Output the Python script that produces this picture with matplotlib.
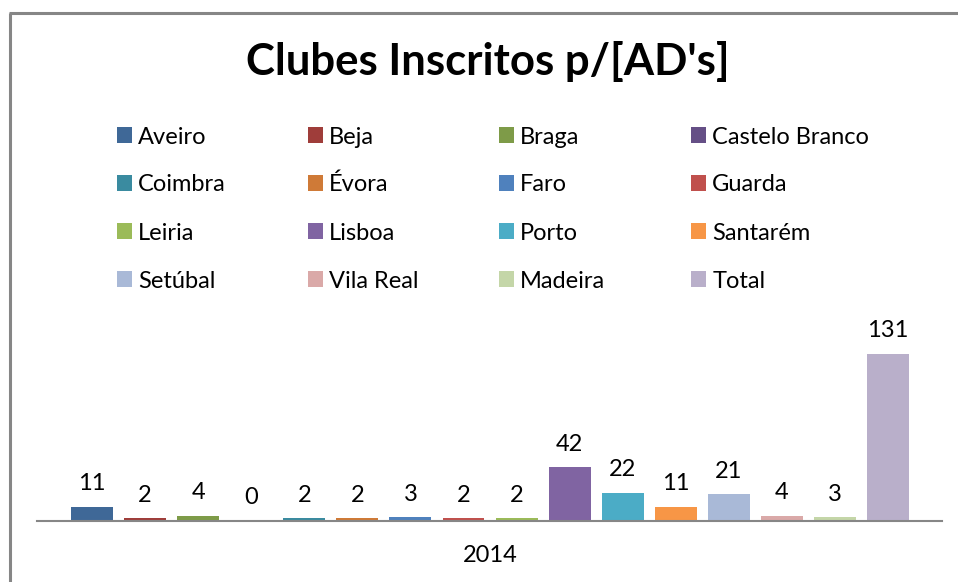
import matplotlib
matplotlib.use("Agg")
import matplotlib.pyplot as plt
from matplotlib.lines import Line2D

categories = ["Aveiro", "Beja", "Braga", "Castelo Branco", "Coimbra", "Évora",
              "Faro", "Guarda", "Leiria", "Lisboa", "Porto", "Santarém",
              "Setúbal", "Vila Real", "Madeira", "Total"]
values = [11, 2, 4, 0, 2, 2, 3, 2, 2, 42, 22, 11, 21, 4, 3, 131]
colors = ["#3F6897", "#9F3D3A", "#7E9B48", "#654F86", "#3A8BA0", "#CF7A37",
          "#4F81BD", "#C0504D", "#9BBB59", "#8064A2", "#4BACC6", "#F79646",
          "#A9B9D7", "#DAA9A8", "#C4D6A8", "#B9AFCA"]
year_label = "2014"
title = "Clubes Inscritos p/[AD's]"

W, H = 958, 582
fig = plt.figure(figsize=(W / 100, H / 100), dpi=100)
plt.rcParams['font.family'] = ['Lato', 'DejaVu Sans']

def fx(px):
    return px / W

def fy(py):
    return 1 - py / H

ax_bottom = 521
ax_top = 342.5
ax = fig.add_axes([fx(37), fy(ax_bottom), fx(942) - fx(37), (ax_bottom - ax_top) / H])

handles = []
for i, (c, v, col) in enumerate(zip(categories, values, colors)):
    bc = ax.bar(i, v, width=0.79, color=col, label=c)
    ax.bar_label(bc, padding=9, fontsize=17, color="black")
    handles.append(bc)

ax.set_xlim(-1.036, 16.017)
ax.set_ylim(0, 140)
for s in ["left", "right", "top"]:
    ax.spines[s].set_visible(False)
ax.spines["bottom"].set_color("#868686")
ax.spines["bottom"].set_linewidth(1.5)
ax.set_yticks([])
ax.set_xticks([7.5])
ax.set_xticklabels([year_label], fontsize=17, color="black")
ax.tick_params(axis="x", length=0, pad=17.5)

fig.text(fx(488), fy(61), title, fontsize=31.5, fontweight="bold",
         ha="center", va="center", color="black")

# legend: 4 columns x 4 rows, row-major order, one entry per legend box
col_x = [117, 308, 499, 691]
row_bottom = [147.5, 195.5, 243.5, 291.5]
for i, (h, lab) in enumerate(zip(handles, categories)):
    r, c = divmod(i, 4)
    fig.legend([h], [lab], loc="lower left",
               bbox_to_anchor=(fx(col_x[c]), fy(row_bottom[r])),
               frameon=False, fontsize=17, borderpad=0,
               borderaxespad=0, handlelength=0.64, handleheight=0.64,
               handletextpad=0.26)

# chart border (partially visible)
fig.add_artist(Line2D([fx(10), fx(10)], [fy(12.5), 0], color="#868686",
                      linewidth=2.2, solid_capstyle="butt",
                      transform=fig.transFigure))
fig.add_artist(Line2D([fx(8.5), 1], [fy(12.5), fy(12.5)], color="#868686",
                      linewidth=2.2, solid_capstyle="butt",
                      transform=fig.transFigure))

fig.savefig("out.png", dpi=100)
